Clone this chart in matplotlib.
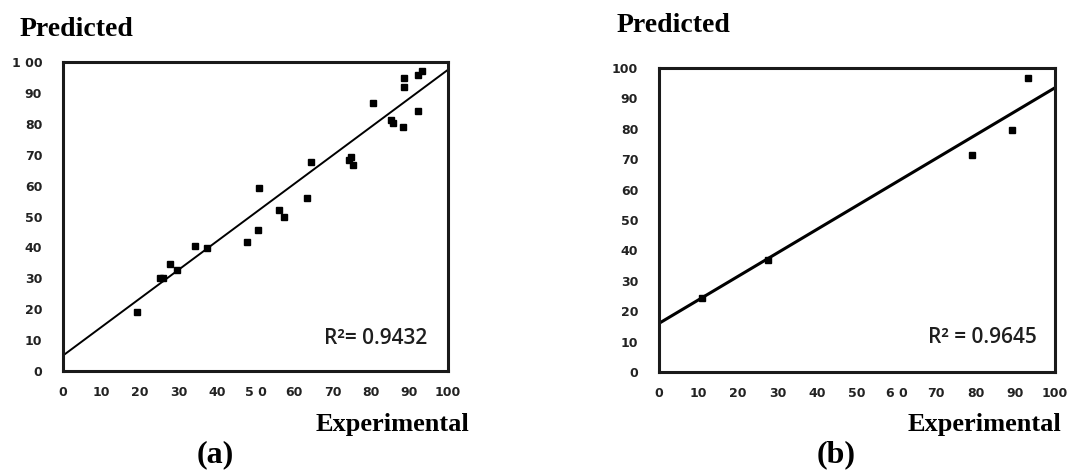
import matplotlib
matplotlib.use("Agg")
import matplotlib.pyplot as plt
import numpy as np

# ---- data (a) ----
exp_a = [93.2, 92.1, 88.6, 88.6, 80.4, 92.3, 85.2, 85.6, 88.2, 74.7, 74.3, 75.2,
         64.3, 63.5, 50.9, 56.1, 57.4, 50.6, 47.7, 34.4, 37.4, 27.9, 29.6, 26.1,
         25.3, 19.3]
pred_a = [97.1, 95.8, 94.7, 92.0, 86.6, 84.2, 81.2, 80.2, 78.9, 69.4, 68.3, 66.7,
          67.7, 55.9, 59.1, 52.1, 49.9, 45.6, 41.8, 40.5, 39.7, 34.6, 32.7, 30.0,
          30.0, 19.2]
fit_a = (0.925, 5.0)       # slope, intercept
r2_a = "R²= 0.9432"

# ---- data (b) ----
exp_b = [93.3, 89.1, 79.0, 27.4, 10.8]
pred_b = [96.6, 79.6, 71.4, 36.8, 24.5]
fit_b = (0.775, 16.0)
r2_b = "R² = 0.9645"

ticks = list(range(0, 101, 10))
xlabels_a = ["0", "10", "20", "30", "40", "5 0", "60", "70", "80", "90", "100"]
ylabels_a = ["0", "10", "20", "30", "40", "50", "60", "70", "80", "90", "1 00"]
xlabels_b = ["0", "10", "20", "30", "40", "50", "6 0", "70", "80", "90", "100"]
ylabels_b = ["0", "10", "20", "30", "40", "50", "60", "70", "80", "90", "100"]

W, H = 1083, 473
fig = plt.figure(figsize=(W / 100, H / 100), dpi=100)

def px_axes(l, t, r, b):
    return fig.add_axes([l / W, 1 - b / H, (r - l) / W, (b - t) / H])

tick_color = "#222222"
serif = ["Liberation Serif", "DejaVu Serif"]
r2font = ["Open Sans", "DejaVu Sans"]

def style(ax, xl, yl):
    ax.set_xlim(0, 100)
    ax.set_ylim(0, 100)
    ax.set_xticks(ticks)
    ax.set_yticks(ticks)
    ax.set_xticklabels(xl)
    ax.set_yticklabels(yl)
    ax.tick_params(axis="x", length=0, pad=11, labelsize=9, labelcolor=tick_color)
    ax.tick_params(axis="y", length=0, pad=15, labelsize=9, labelcolor=tick_color)
    for lab in ax.get_xticklabels() + ax.get_yticklabels():
        lab.set_fontweight("bold")
        lab.set_family(["DejaVu Sans"])
    for s in ax.spines.values():
        s.set_linewidth(2.2)
        s.set_color("#1a1a1a")

# left panel
ax1 = px_axes(63, 62, 448, 371)
style(ax1, xlabels_a, ylabels_a)
xs = np.array([0, 100])
ax1.plot(xs, fit_a[0] * xs + fit_a[1], color="black", lw=1.4, zorder=2)
ax1.plot(exp_a, pred_a, "s", color="black", ms=4.8, zorder=3, clip_on=False)
ax1.text(0.945, 0.105, r2_a, transform=ax1.transAxes, ha="right", va="center",
         fontsize=15, family=r2font, fontweight="semibold", color="#1e1e1e")

# right panel
ax2 = px_axes(659, 68, 1055, 372)
style(ax2, xlabels_b, ylabels_b)
ax2.plot(xs, fit_b[0] * xs + fit_b[1], color="black", lw=2.2, zorder=2)
ax2.plot(exp_b, pred_b, "s", color="black", ms=4.8, zorder=3, clip_on=False)
ax2.text(0.955, 0.115, r2_b, transform=ax2.transAxes, ha="right", va="center",
         fontsize=15, family=r2font, fontweight="semibold", color="#1e1e1e")

# labels
def ftext(x, y, s, size, ha="left"):
    fig.text(x / W, 1 - y / H, s, fontsize=size, fontweight="bold",
             family=serif, ha=ha, va="center")

ftext(20, 30, "Predicted", 20)
ftext(617, 26, "Predicted", 20)
ftext(316, 424, "Experimental", 19)
ftext(908, 424, "Experimental", 19)
ftext(215, 455, "(a)", 23, ha="center")
ftext(836, 455, "(b)", 23, ha="center")

fig.savefig("out.png", dpi=100)
